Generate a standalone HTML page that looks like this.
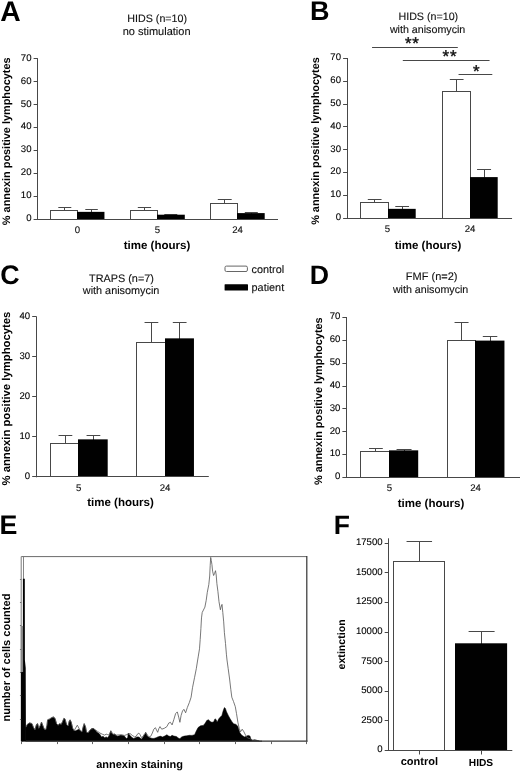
<!DOCTYPE html>
<html><head><meta charset="utf-8"><title>Figure</title>
<style>
html,body{margin:0;padding:0;background:#fff;}
body{width:520px;height:771px;overflow:hidden;font-family:"Liberation Sans",sans-serif;}
svg{display:block;font-family:"Liberation Sans",sans-serif;will-change:transform;opacity:0.999;}
text{text-rendering:geometricPrecision;}
</style></head><body>
<svg width="520" height="771" viewBox="0 0 520 771">
<rect width="520" height="771" fill="#fff"/>
<text x="0.30" y="20.70" font-size="28.3" font-weight="bold" text-anchor="start" fill="#000">A</text>
<text x="310.00" y="20.30" font-size="27.0" font-weight="bold" text-anchor="start" fill="#000">B</text>
<text x="0.20" y="284.10" font-size="26.8" font-weight="bold" text-anchor="start" fill="#000">C</text>
<text x="309.70" y="284.30" font-size="26.7" font-weight="bold" text-anchor="start" fill="#000">D</text>
<text x="-0.60" y="534.20" font-size="26.8" font-weight="bold" text-anchor="start" fill="#000">E</text>
<text x="333.80" y="534.20" font-size="26.5" font-weight="bold" text-anchor="start" fill="#000">F</text>
<text x="157.20" y="21.60" font-size="10.7" font-weight="normal" text-anchor="middle" fill="#111" stroke="#111" stroke-width="0.12">HIDS (n=10)</text>
<text x="156.60" y="34.50" font-size="11.0" font-weight="normal" text-anchor="middle" fill="#111" stroke="#111" stroke-width="0.12">no stimulation</text>
<line x1="64.50" y1="207.55" x2="64.50" y2="211.05" stroke="#484848" stroke-width="1.0"/>
<line x1="58.30" y1="207.50" x2="71.30" y2="207.50" stroke="#484848" stroke-width="1.0"/>
<rect x="50.50" y="210.50" width="27.00" height="9.00" fill="#fff" stroke="#484848" stroke-width="1.0"/>
<line x1="91.50" y1="209.55" x2="91.50" y2="212.55" stroke="#484848" stroke-width="1.0"/>
<line x1="85.30" y1="209.50" x2="97.80" y2="209.50" stroke="#484848" stroke-width="1.0"/>
<rect x="77.00" y="211.85" width="27.45" height="8.15" fill="#000"/>
<line x1="144.50" y1="207.80" x2="144.50" y2="210.80" stroke="#484848" stroke-width="1.0"/>
<line x1="137.80" y1="207.50" x2="151.10" y2="207.50" stroke="#484848" stroke-width="1.0"/>
<rect x="130.50" y="210.50" width="27.00" height="9.00" fill="#fff" stroke="#484848" stroke-width="1.0"/>
<line x1="170.50" y1="214.00" x2="170.50" y2="215.40" stroke="#484848" stroke-width="1.0"/>
<line x1="164.30" y1="214.50" x2="177.30" y2="214.50" stroke="#484848" stroke-width="1.0"/>
<rect x="157.00" y="214.70" width="27.80" height="5.30" fill="#000"/>
<line x1="224.50" y1="199.50" x2="224.50" y2="203.80" stroke="#484848" stroke-width="1.0"/>
<line x1="217.80" y1="199.50" x2="231.70" y2="199.50" stroke="#484848" stroke-width="1.0"/>
<rect x="210.50" y="203.50" width="27.00" height="16.00" fill="#fff" stroke="#484848" stroke-width="1.0"/>
<line x1="251.50" y1="212.30" x2="251.50" y2="213.80" stroke="#484848" stroke-width="1.0"/>
<line x1="244.80" y1="212.50" x2="257.80" y2="212.50" stroke="#484848" stroke-width="1.0"/>
<rect x="237.00" y="213.10" width="27.70" height="6.90" fill="#000"/>
<line x1="37.50" y1="58.40" x2="37.50" y2="219.75" stroke="#484848" stroke-width="1.0"/>
<line x1="33.60" y1="219.50" x2="37.80" y2="219.50" stroke="#484848" stroke-width="1.0"/>
<text x="31.50" y="221.05" font-size="9.6" font-weight="normal" text-anchor="end" fill="#000" stroke="#111" stroke-width="0.12">0</text>
<line x1="33.60" y1="196.50" x2="37.80" y2="196.50" stroke="#484848" stroke-width="1.0"/>
<text x="31.50" y="198.14" font-size="9.6" font-weight="normal" text-anchor="end" fill="#000" stroke="#111" stroke-width="0.12">10</text>
<line x1="33.60" y1="173.50" x2="37.80" y2="173.50" stroke="#484848" stroke-width="1.0"/>
<text x="31.50" y="175.24" font-size="9.6" font-weight="normal" text-anchor="end" fill="#000" stroke="#111" stroke-width="0.12">20</text>
<line x1="33.60" y1="150.50" x2="37.80" y2="150.50" stroke="#484848" stroke-width="1.0"/>
<text x="31.50" y="152.33" font-size="9.6" font-weight="normal" text-anchor="end" fill="#000" stroke="#111" stroke-width="0.12">30</text>
<line x1="33.60" y1="127.50" x2="37.80" y2="127.50" stroke="#484848" stroke-width="1.0"/>
<text x="31.50" y="129.42" font-size="9.6" font-weight="normal" text-anchor="end" fill="#000" stroke="#111" stroke-width="0.12">40</text>
<line x1="33.60" y1="104.50" x2="37.80" y2="104.50" stroke="#484848" stroke-width="1.0"/>
<text x="31.50" y="106.51" font-size="9.6" font-weight="normal" text-anchor="end" fill="#000" stroke="#111" stroke-width="0.12">50</text>
<line x1="33.60" y1="81.50" x2="37.80" y2="81.50" stroke="#484848" stroke-width="1.0"/>
<text x="31.50" y="83.61" font-size="9.6" font-weight="normal" text-anchor="end" fill="#000" stroke="#111" stroke-width="0.12">60</text>
<line x1="33.60" y1="58.50" x2="37.80" y2="58.50" stroke="#484848" stroke-width="1.0"/>
<text x="31.50" y="60.70" font-size="9.6" font-weight="normal" text-anchor="end" fill="#000" stroke="#111" stroke-width="0.12">70</text>
<line x1="37.30" y1="219.50" x2="278.00" y2="219.50" stroke="#484848" stroke-width="1.0"/>
<text x="77.50" y="233.20" font-size="9.6" font-weight="normal" text-anchor="middle" fill="#111" stroke="#111" stroke-width="0.12">0</text>
<text x="157.50" y="233.20" font-size="9.6" font-weight="normal" text-anchor="middle" fill="#111" stroke="#111" stroke-width="0.12">5</text>
<text x="237.50" y="233.20" font-size="9.6" font-weight="normal" text-anchor="middle" fill="#111" stroke="#111" stroke-width="0.12">24</text>
<text x="157.00" y="249.20" font-size="11.55" font-weight="bold" text-anchor="middle" fill="#000">time (hours)</text>
<text x="10.00" y="141.30" font-size="10.9" font-weight="bold" text-anchor="middle" fill="#000" transform="rotate(-90 10.00 141.30)">% annexin positive lymphocytes</text>
<text x="428.30" y="20.30" font-size="10.7" font-weight="normal" text-anchor="middle" fill="#111" stroke="#111" stroke-width="0.12">HIDS (n=10)</text>
<text x="427.60" y="33.30" font-size="10.7" font-weight="normal" text-anchor="middle" fill="#111" stroke="#111" stroke-width="0.12">with anisomycin</text>
<line x1="372.05" y1="47.50" x2="457.80" y2="47.50" stroke="#484848" stroke-width="1.0"/>
<line x1="402.80" y1="60.50" x2="489.55" y2="60.50" stroke="#484848" stroke-width="1.0"/>
<line x1="458.55" y1="74.50" x2="492.30" y2="74.50" stroke="#484848" stroke-width="1.0"/>
<text x="412.30" y="48.80" font-size="17.0" font-weight="normal" text-anchor="middle" fill="#111" letter-spacing="0.8" stroke="#111" stroke-width="0.4">**</text>
<text x="449.90" y="62.30" font-size="17.0" font-weight="normal" text-anchor="middle" fill="#111" letter-spacing="0.8" stroke="#111" stroke-width="0.4">**</text>
<text x="476.30" y="76.80" font-size="17.0" font-weight="normal" text-anchor="middle" fill="#111" stroke="#111" stroke-width="0.4">*</text>
<line x1="374.50" y1="199.80" x2="374.50" y2="203.30" stroke="#484848" stroke-width="1.0"/>
<line x1="367.80" y1="199.50" x2="381.55" y2="199.50" stroke="#484848" stroke-width="1.0"/>
<rect x="360.50" y="202.50" width="28.00" height="16.00" fill="#fff" stroke="#484848" stroke-width="1.0"/>
<line x1="402.50" y1="206.55" x2="402.50" y2="209.55" stroke="#484848" stroke-width="1.0"/>
<line x1="395.30" y1="206.50" x2="409.05" y2="206.50" stroke="#484848" stroke-width="1.0"/>
<rect x="388.00" y="208.85" width="27.70" height="10.15" fill="#000"/>
<line x1="456.50" y1="79.80" x2="456.50" y2="92.05" stroke="#484848" stroke-width="1.0"/>
<line x1="449.80" y1="79.50" x2="463.55" y2="79.50" stroke="#484848" stroke-width="1.0"/>
<rect x="442.50" y="91.50" width="28.00" height="127.00" fill="#fff" stroke="#484848" stroke-width="1.0"/>
<line x1="484.50" y1="169.80" x2="484.50" y2="177.80" stroke="#484848" stroke-width="1.0"/>
<line x1="477.05" y1="169.50" x2="491.05" y2="169.50" stroke="#484848" stroke-width="1.0"/>
<rect x="470.00" y="177.10" width="27.70" height="41.90" fill="#000"/>
<line x1="347.50" y1="58.00" x2="347.50" y2="218.80" stroke="#484848" stroke-width="1.0"/>
<line x1="343.10" y1="218.50" x2="347.30" y2="218.50" stroke="#484848" stroke-width="1.0"/>
<text x="341.00" y="220.10" font-size="9.6" font-weight="normal" text-anchor="end" fill="#000" stroke="#111" stroke-width="0.12">0</text>
<line x1="343.10" y1="195.50" x2="347.30" y2="195.50" stroke="#484848" stroke-width="1.0"/>
<text x="341.00" y="197.27" font-size="9.6" font-weight="normal" text-anchor="end" fill="#000" stroke="#111" stroke-width="0.12">10</text>
<line x1="343.10" y1="172.50" x2="347.30" y2="172.50" stroke="#484848" stroke-width="1.0"/>
<text x="341.00" y="174.44" font-size="9.6" font-weight="normal" text-anchor="end" fill="#000" stroke="#111" stroke-width="0.12">20</text>
<line x1="343.10" y1="149.50" x2="347.30" y2="149.50" stroke="#484848" stroke-width="1.0"/>
<text x="341.00" y="151.61" font-size="9.6" font-weight="normal" text-anchor="end" fill="#000" stroke="#111" stroke-width="0.12">30</text>
<line x1="343.10" y1="126.50" x2="347.30" y2="126.50" stroke="#484848" stroke-width="1.0"/>
<text x="341.00" y="128.79" font-size="9.6" font-weight="normal" text-anchor="end" fill="#000" stroke="#111" stroke-width="0.12">40</text>
<line x1="343.10" y1="104.50" x2="347.30" y2="104.50" stroke="#484848" stroke-width="1.0"/>
<text x="341.00" y="105.96" font-size="9.6" font-weight="normal" text-anchor="end" fill="#000" stroke="#111" stroke-width="0.12">50</text>
<line x1="343.10" y1="81.50" x2="347.30" y2="81.50" stroke="#484848" stroke-width="1.0"/>
<text x="341.00" y="83.13" font-size="9.6" font-weight="normal" text-anchor="end" fill="#000" stroke="#111" stroke-width="0.12">60</text>
<line x1="343.10" y1="58.50" x2="347.30" y2="58.50" stroke="#484848" stroke-width="1.0"/>
<text x="341.00" y="60.30" font-size="9.6" font-weight="normal" text-anchor="end" fill="#000" stroke="#111" stroke-width="0.12">70</text>
<line x1="346.80" y1="218.50" x2="512.05" y2="218.50" stroke="#484848" stroke-width="1.0"/>
<text x="387.50" y="232.40" font-size="9.6" font-weight="normal" text-anchor="middle" fill="#111" stroke="#111" stroke-width="0.12">5</text>
<text x="470.00" y="232.40" font-size="9.6" font-weight="normal" text-anchor="middle" fill="#111" stroke="#111" stroke-width="0.12">24</text>
<text x="428.00" y="248.70" font-size="11.55" font-weight="bold" text-anchor="middle" fill="#000">time (hours)</text>
<text x="319.40" y="141.00" font-size="10.9" font-weight="bold" text-anchor="middle" fill="#000" transform="rotate(-90 319.40 141.00)">% annexin positive lymphocytes</text>
<rect x="225.0" y="266.1" width="22.4" height="5.4" rx="1.4" fill="#fff" stroke="#666" stroke-width="1"/>
<rect x="224.6" y="284.2" width="23.4" height="6.3" rx="0.6" fill="#000"/>
<text x="251.60" y="273.30" font-size="10.85" font-weight="normal" text-anchor="start" fill="#111" stroke="#111" stroke-width="0.12">control</text>
<text x="251.60" y="291.20" font-size="10.85" font-weight="normal" text-anchor="start" fill="#111" stroke="#111" stroke-width="0.12">patient</text>
<text x="121.50" y="281.70" font-size="10.85" font-weight="normal" text-anchor="middle" fill="#111" stroke="#111" stroke-width="0.12">TRAPS (n=7)</text>
<text x="121.10" y="294.20" font-size="10.85" font-weight="normal" text-anchor="middle" fill="#111" stroke="#111" stroke-width="0.12">with anisomycin</text>
<line x1="65.50" y1="435.80" x2="65.50" y2="444.55" stroke="#484848" stroke-width="1.0"/>
<line x1="58.55" y1="435.50" x2="72.30" y2="435.50" stroke="#484848" stroke-width="1.0"/>
<rect x="50.50" y="443.50" width="28.00" height="33.00" fill="#fff" stroke="#484848" stroke-width="1.0"/>
<line x1="93.50" y1="435.80" x2="93.50" y2="440.05" stroke="#484848" stroke-width="1.0"/>
<line x1="86.55" y1="435.50" x2="100.30" y2="435.50" stroke="#484848" stroke-width="1.0"/>
<rect x="78.00" y="439.35" width="29.70" height="37.65" fill="#000"/>
<line x1="151.50" y1="322.30" x2="151.50" y2="342.80" stroke="#484848" stroke-width="1.0"/>
<line x1="144.55" y1="322.50" x2="158.30" y2="322.50" stroke="#484848" stroke-width="1.0"/>
<rect x="136.50" y="342.50" width="29.00" height="134.00" fill="#fff" stroke="#484848" stroke-width="1.0"/>
<line x1="179.50" y1="322.30" x2="179.50" y2="339.05" stroke="#484848" stroke-width="1.0"/>
<line x1="172.80" y1="322.50" x2="186.55" y2="322.50" stroke="#484848" stroke-width="1.0"/>
<rect x="165.00" y="338.35" width="28.95" height="138.65" fill="#000"/>
<line x1="36.50" y1="316.40" x2="36.50" y2="477.30" stroke="#484848" stroke-width="1.0"/>
<line x1="32.20" y1="476.50" x2="36.40" y2="476.50" stroke="#484848" stroke-width="1.0"/>
<text x="30.10" y="478.60" font-size="9.6" font-weight="normal" text-anchor="end" fill="#000" stroke="#111" stroke-width="0.12">0</text>
<line x1="32.20" y1="436.50" x2="36.40" y2="436.50" stroke="#484848" stroke-width="1.0"/>
<text x="30.10" y="438.62" font-size="9.6" font-weight="normal" text-anchor="end" fill="#000" stroke="#111" stroke-width="0.12">10</text>
<line x1="32.20" y1="396.50" x2="36.40" y2="396.50" stroke="#484848" stroke-width="1.0"/>
<text x="30.10" y="398.65" font-size="9.6" font-weight="normal" text-anchor="end" fill="#000" stroke="#111" stroke-width="0.12">20</text>
<line x1="32.20" y1="356.50" x2="36.40" y2="356.50" stroke="#484848" stroke-width="1.0"/>
<text x="30.10" y="358.68" font-size="9.6" font-weight="normal" text-anchor="end" fill="#000" stroke="#111" stroke-width="0.12">30</text>
<line x1="32.20" y1="316.50" x2="36.40" y2="316.50" stroke="#484848" stroke-width="1.0"/>
<text x="30.10" y="318.70" font-size="9.6" font-weight="normal" text-anchor="end" fill="#000" stroke="#111" stroke-width="0.12">40</text>
<line x1="35.90" y1="476.50" x2="208.80" y2="476.50" stroke="#484848" stroke-width="1.0"/>
<text x="78.75" y="491.20" font-size="9.6" font-weight="normal" text-anchor="middle" fill="#111" stroke="#111" stroke-width="0.12">5</text>
<text x="165.00" y="491.20" font-size="9.6" font-weight="normal" text-anchor="middle" fill="#111" stroke="#111" stroke-width="0.12">24</text>
<text x="120.50" y="506.00" font-size="11.55" font-weight="bold" text-anchor="middle" fill="#000">time (hours)</text>
<text x="10.20" y="398.60" font-size="11.3" font-weight="bold" text-anchor="middle" fill="#000" transform="rotate(-90 10.20 398.60)">% annexin positive lymphocytes</text>
<text x="431.70" y="280.20" font-size="11.0" font-weight="normal" text-anchor="middle" fill="#111" stroke="#111" stroke-width="0.12">FMF (n=2)</text>
<text x="430.60" y="292.80" font-size="10.7" font-weight="normal" text-anchor="middle" fill="#111" stroke="#111" stroke-width="0.12">with anisomycin</text>
<line x1="375.50" y1="448.55" x2="375.50" y2="452.05" stroke="#484848" stroke-width="1.0"/>
<line x1="369.05" y1="448.50" x2="382.80" y2="448.50" stroke="#484848" stroke-width="1.0"/>
<rect x="360.50" y="451.50" width="29.00" height="26.00" fill="#fff" stroke="#484848" stroke-width="1.0"/>
<line x1="404.50" y1="449.05" x2="404.50" y2="451.05" stroke="#484848" stroke-width="1.0"/>
<line x1="396.55" y1="449.50" x2="411.55" y2="449.50" stroke="#484848" stroke-width="1.0"/>
<rect x="389.00" y="450.35" width="29.20" height="27.65" fill="#000"/>
<line x1="461.50" y1="322.80" x2="461.50" y2="341.30" stroke="#484848" stroke-width="1.0"/>
<line x1="454.55" y1="322.50" x2="468.55" y2="322.50" stroke="#484848" stroke-width="1.0"/>
<rect x="447.50" y="340.50" width="28.00" height="137.00" fill="#fff" stroke="#484848" stroke-width="1.0"/>
<line x1="490.50" y1="336.80" x2="490.50" y2="341.30" stroke="#484848" stroke-width="1.0"/>
<line x1="482.80" y1="336.50" x2="497.30" y2="336.50" stroke="#484848" stroke-width="1.0"/>
<rect x="475.00" y="340.60" width="29.45" height="137.40" fill="#000"/>
<line x1="346.50" y1="317.00" x2="346.50" y2="478.00" stroke="#484848" stroke-width="1.0"/>
<line x1="342.40" y1="477.50" x2="346.60" y2="477.50" stroke="#484848" stroke-width="1.0"/>
<text x="340.30" y="479.30" font-size="9.6" font-weight="normal" text-anchor="end" fill="#000" stroke="#111" stroke-width="0.12">0</text>
<line x1="342.40" y1="454.50" x2="346.60" y2="454.50" stroke="#484848" stroke-width="1.0"/>
<text x="340.30" y="456.44" font-size="9.6" font-weight="normal" text-anchor="end" fill="#000" stroke="#111" stroke-width="0.12">10</text>
<line x1="342.40" y1="431.50" x2="346.60" y2="431.50" stroke="#484848" stroke-width="1.0"/>
<text x="340.30" y="433.59" font-size="9.6" font-weight="normal" text-anchor="end" fill="#000" stroke="#111" stroke-width="0.12">20</text>
<line x1="342.40" y1="408.50" x2="346.60" y2="408.50" stroke="#484848" stroke-width="1.0"/>
<text x="340.30" y="410.73" font-size="9.6" font-weight="normal" text-anchor="end" fill="#000" stroke="#111" stroke-width="0.12">30</text>
<line x1="342.40" y1="386.50" x2="346.60" y2="386.50" stroke="#484848" stroke-width="1.0"/>
<text x="340.30" y="387.87" font-size="9.6" font-weight="normal" text-anchor="end" fill="#000" stroke="#111" stroke-width="0.12">40</text>
<line x1="342.40" y1="363.50" x2="346.60" y2="363.50" stroke="#484848" stroke-width="1.0"/>
<text x="340.30" y="365.01" font-size="9.6" font-weight="normal" text-anchor="end" fill="#000" stroke="#111" stroke-width="0.12">50</text>
<line x1="342.40" y1="340.50" x2="346.60" y2="340.50" stroke="#484848" stroke-width="1.0"/>
<text x="340.30" y="342.16" font-size="9.6" font-weight="normal" text-anchor="end" fill="#000" stroke="#111" stroke-width="0.12">60</text>
<line x1="342.40" y1="317.50" x2="346.60" y2="317.50" stroke="#484848" stroke-width="1.0"/>
<text x="340.30" y="319.30" font-size="9.6" font-weight="normal" text-anchor="end" fill="#000" stroke="#111" stroke-width="0.12">70</text>
<line x1="346.10" y1="477.50" x2="520.30" y2="477.50" stroke="#484848" stroke-width="1.0"/>
<text x="389.50" y="491.00" font-size="9.6" font-weight="normal" text-anchor="middle" fill="#111" stroke="#111" stroke-width="0.12">5</text>
<text x="475.50" y="491.00" font-size="9.6" font-weight="normal" text-anchor="middle" fill="#111" stroke="#111" stroke-width="0.12">24</text>
<text x="431.00" y="507.30" font-size="11.55" font-weight="bold" text-anchor="middle" fill="#000">time (hours)</text>
<text x="322.50" y="401.20" font-size="10.9" font-weight="bold" text-anchor="middle" fill="#000" transform="rotate(-90 322.50 401.20)">% annexin positive lymphocytes</text>
<line x1="419.50" y1="541.55" x2="419.50" y2="562.55" stroke="#484848" stroke-width="1.0"/>
<line x1="406.55" y1="541.50" x2="432.05" y2="541.50" stroke="#484848" stroke-width="1.0"/>
<rect x="393.50" y="561.50" width="51.00" height="189.00" fill="#fff" stroke="#484848" stroke-width="1.0"/>
<line x1="481.50" y1="631.80" x2="481.50" y2="644.00" stroke="#484848" stroke-width="1.0"/>
<line x1="468.60" y1="631.50" x2="494.60" y2="631.50" stroke="#484848" stroke-width="1.0"/>
<rect x="455.00" y="643.30" width="52.10" height="107.70" fill="#000"/>
<line x1="388.50" y1="538.30" x2="388.50" y2="751.00" stroke="#484848" stroke-width="1.0"/>
<line x1="384.70" y1="750.50" x2="388.90" y2="750.50" stroke="#484848" stroke-width="1.0"/>
<text x="382.60" y="752.30" font-size="9.6" font-weight="normal" text-anchor="end" fill="#000" stroke="#111" stroke-width="0.12">0</text>
<line x1="384.70" y1="720.50" x2="388.90" y2="720.50" stroke="#484848" stroke-width="1.0"/>
<text x="382.60" y="722.70" font-size="9.6" font-weight="normal" text-anchor="end" fill="#000" stroke="#111" stroke-width="0.12">2500</text>
<line x1="384.70" y1="691.50" x2="388.90" y2="691.50" stroke="#484848" stroke-width="1.0"/>
<text x="382.60" y="693.10" font-size="9.6" font-weight="normal" text-anchor="end" fill="#000" stroke="#111" stroke-width="0.12">5000</text>
<line x1="384.70" y1="661.50" x2="388.90" y2="661.50" stroke="#484848" stroke-width="1.0"/>
<text x="382.60" y="663.50" font-size="9.6" font-weight="normal" text-anchor="end" fill="#000" stroke="#111" stroke-width="0.12">7500</text>
<line x1="384.70" y1="632.50" x2="388.90" y2="632.50" stroke="#484848" stroke-width="1.0"/>
<text x="382.60" y="633.90" font-size="9.6" font-weight="normal" text-anchor="end" fill="#000" stroke="#111" stroke-width="0.12">10000</text>
<line x1="384.70" y1="602.50" x2="388.90" y2="602.50" stroke="#484848" stroke-width="1.0"/>
<text x="382.60" y="604.30" font-size="9.6" font-weight="normal" text-anchor="end" fill="#000" stroke="#111" stroke-width="0.12">12500</text>
<line x1="384.70" y1="572.50" x2="388.90" y2="572.50" stroke="#484848" stroke-width="1.0"/>
<text x="382.60" y="574.70" font-size="9.6" font-weight="normal" text-anchor="end" fill="#000" stroke="#111" stroke-width="0.12">15000</text>
<line x1="384.70" y1="543.50" x2="388.90" y2="543.50" stroke="#484848" stroke-width="1.0"/>
<text x="382.60" y="545.10" font-size="9.6" font-weight="normal" text-anchor="end" fill="#000" stroke="#111" stroke-width="0.12">17500</text>
<line x1="388.40" y1="750.50" x2="512.30" y2="750.50" stroke="#484848" stroke-width="1.0"/>
<line x1="419.50" y1="750.50" x2="419.50" y2="754.50" stroke="#484848" stroke-width="1.0"/>
<line x1="481.50" y1="750.50" x2="481.50" y2="754.50" stroke="#484848" stroke-width="1.0"/>
<text x="419.40" y="765.20" font-size="11.0" font-weight="bold" text-anchor="middle" fill="#000">control</text>
<text x="481.00" y="765.80" font-size="10.2" font-weight="bold" text-anchor="middle" fill="#000">HIDS</text>
<text x="345.50" y="644.40" font-size="10.6" font-weight="bold" text-anchor="middle" fill="#000" transform="rotate(-90 345.50 644.40)">extinction</text>
<path d="M25.6 741.2 L25.6 727.7 L25.8 727.7 L27.3 724.6 L29.6 723.1 L31.9 723.8 L33.5 727.7 L35.0 730.0 L36.5 724.6 L37.6 723.8 L38.8 728.5 L40.4 725.4 L41.5 722.3 L42.7 725.4 L44.2 729.2 L45.8 730.0 L47.0 725.4 L47.6 720.0 L49.6 719.2 L51.9 717.7 L53.5 717.2 L55.0 718.5 L56.5 723.8 L58.1 725.4 L59.6 723.8 L61.2 724.6 L62.7 721.5 L63.9 718.5 L65.0 719.2 L66.5 724.6 L68.1 726.2 L69.2 721.5 L70.1 720.0 L71.2 722.3 L72.7 728.5 L74.2 730.8 L75.8 730.8 L77.3 730.0 L78.8 729.2 L80.4 730.8 L81.9 732.3 L83.0 727.7 L84.2 723.8 L85.5 726.9 L86.5 732.3 L88.1 733.1 L89.6 730.8 L91.2 729.2 L93.5 728.9 L91.5 728.9 L93.1 728.5 L95.4 730.0 L96.9 732.3 L98.5 733.1 L100.0 734.6 L101.5 736.9 L103.1 736.2 L104.6 737.7 L106.2 736.9 L107.7 737.7 L109.2 735.4 L110.0 733.1 L110.8 730.8 L111.5 733.1 L113.1 734.6 L114.6 733.8 L116.2 735.4 L117.7 736.2 L119.2 735.7 L120.8 735.1 L123.1 735.4 L124.6 736.2 L126.2 738.5 L127.7 737.7 L128.2 733.1 L129.2 734.6 L130.8 736.2 L132.3 737.7 L133.8 738.5 L135.4 737.7 L136.9 736.9 L138.5 736.9 L140.0 737.7 L141.5 739.2 L143.1 736.9 L144.6 734.6 L145.7 732.3 L146.9 735.4 L148.5 736.9 L150.0 737.7 L151.5 738.2 L153.1 738.5 L154.6 738.2 L156.2 737.7 L157.7 736.9 L159.2 736.6 L160.0 736.1 L162.6 737.0 L165.2 735.8 L166.9 734.7 L168.7 736.1 L170.4 736.5 L172.1 735.3 L173.8 736.1 L176.4 736.5 L178.2 737.9 L179.9 738.7 L181.6 737.0 L184.2 736.1 L186.8 735.8 L189.4 735.3 L192.0 735.4 L194.6 734.7 L196.3 730.9 L198.1 727.5 L200.7 725.7 L203.3 725.4 L205.3 723.1 L206.7 720.6 L208.4 719.7 L210.2 721.4 L211.9 722.3 L213.6 721.9 L215.0 718.8 L216.2 719.7 L217.1 722.3 L218.8 718.8 L220.6 716.7 L221.9 715.4 L223.1 711.0 L224.4 707.6 L225.4 708.4 L226.6 711.9 L228.3 715.4 L230.1 718.8 L231.8 721.4 L233.5 723.7 L236.1 724.4 L237.9 726.6 L238.7 729.2 L239.9 732.7 L241.3 734.7 L243.0 736.1 L244.8 737.0 L246.5 736.1 L248.2 735.4 L250.0 736.1 L250.6 738.3 L252.2 740.2 L254.9 739.7 L257.6 740.5 L260.3 741.2 L262 741.2 Z" fill="#000" stroke="#000" stroke-width="0.5" stroke-linejoin="round"/>
<path d="M25.8 727.4 L27.3 724.3 L29.6 722.8 L31.9 723.5 L33.5 727.4 L35.0 729.7 L36.5 724.3 L37.6 723.5 L38.8 728.2 L40.4 725.1 L41.5 722.0 L42.7 725.1 L44.2 728.9 L45.8 729.7 L47.0 725.1 L47.6 719.7 L49.6 718.9 L51.9 717.4 L53.5 716.9 L55.0 718.2 L56.5 723.5 L58.1 725.1 L59.6 723.5 L61.2 724.3 L62.7 721.2 L63.9 718.2 L65.0 718.9 L66.5 724.3 L68.1 725.9 L69.2 721.2 L70.1 719.7 L71.2 722.0 L72.7 728.2 L74.2 730.6 L74.2 730.5 L77.3 725.2 L80.3 730.6 L80.4 730.5 L81.9 732.0 L83.0 727.4 L84.2 723.5 L85.5 726.6 L86.5 732.0 L88.1 732.8 L89.6 730.5 L91.2 728.9 L93.5 728.6 L95.4 730.0 L97.7 731.5 L100.0 733.1 L102.3 734.2 L104.6 735.1 L106.2 734.2 L107.7 734.6 L109.2 735.1 L110.8 730.8 L113.1 734.2 L116.2 735.1 L120.8 734.8 L124.6 735.4 L126.9 734.6 L130.0 733.5 L132.3 735.4 L134.6 736.9 L136.2 736.2 L137.7 733.8 L138.9 733.1 L140.0 734.6 L141.5 737.7 L143.1 736.2 L144.6 733.8 L146.2 733.1 L147.7 735.4 L149.2 736.9 L150.8 736.2 L152.3 733.1 L153.8 729.2 L155.4 727.7 L156.5 730.0 L157.7 732.3 L158.9 728.5 L160.0 726.6 L161.7 729.2 L164.3 728.3 L166.9 726.6 L168.7 723.1 L170.4 722.3 L172.1 724.9 L173.8 719.7 L175.6 713.6 L177.3 711.9 L178.7 717.1 L179.9 722.3 L181.1 715.4 L182.5 711.0 L183.9 709.3 L185.6 712.8 L187.3 707.6 L189.4 702.4 L191.1 697.2 L192.5 687.7 L194.6 677.3 L196.3 668.7 L197.5 661.0 L198.2 656.9 L199.5 648.8 L200.2 639.4 L200.9 628.6 L201.5 617.9 L202.2 612.5 L204.9 607.1 L206.2 600.4 L207.3 592.3 L208.8 584.6 L209.7 576.0 L210.2 565.4 L210.7 557.4 L211.3 560.6 L211.9 564.4 L212.6 571.2 L213.6 575.5 L214.5 573.6 L215.5 570.7 L216.2 575.0 L216.9 583.7 L217.9 591.3 L219.0 601.7 L220.4 609.8 L221.0 607.1 L222.0 604.4 L222.8 612.5 L223.7 621.9 L224.4 632.7 L225.5 643.5 L226.4 654.2 L227.0 660.0 L228.2 668.7 L229.6 679.0 L230.8 689.4 L231.8 697.2 L233.5 701.5 L235.3 706.7 L236.5 713.6 L237.9 722.3 L239.2 728.3 L240.5 731.8 L242.2 729.2 L243.9 731.8 L245.6 735.3 L247.4 737.9 L250.0 738.7 L252.2 740.2 L259.0 741.0" fill="none" stroke="#555" stroke-width="0.8" stroke-linejoin="round"/>
<line x1="21.25" y1="556.60" x2="306.80" y2="556.60" stroke="#6a6a6a" stroke-width="1.0"/>
<line x1="21.20" y1="556.60" x2="21.20" y2="741.20" stroke="#7a7a7a" stroke-width="1.0"/>
<line x1="306.80" y1="556.10" x2="306.80" y2="741.70" stroke="#333" stroke-width="1.2"/>
<line x1="21.25" y1="741.15" x2="307.40" y2="741.15" stroke="#333" stroke-width="1.2"/>
<line x1="23.50" y1="557.00" x2="23.50" y2="579.30" stroke="#777" stroke-width="0.9"/>
<path d="M22.9 578.8 L24.8 578.8 L24.9 660 L25.7 668 L25.9 727 L25.9 741 L22.9 741 Z" fill="#000"/>
<rect x="20.8" y="626" width="2.3" height="46" fill="#8a8a8a"/>
<rect x="21.0" y="672" width="2.2" height="69.3" fill="#000"/>
<line x1="21.50" y1="741.30" x2="21.50" y2="744.10" stroke="#555" stroke-width="0.9"/>
<line x1="57.50" y1="741.30" x2="57.50" y2="744.10" stroke="#555" stroke-width="0.9"/>
<line x1="92.50" y1="741.30" x2="92.50" y2="744.10" stroke="#555" stroke-width="0.9"/>
<line x1="128.50" y1="741.30" x2="128.50" y2="744.10" stroke="#555" stroke-width="0.9"/>
<line x1="164.50" y1="741.30" x2="164.50" y2="744.10" stroke="#555" stroke-width="0.9"/>
<line x1="199.50" y1="741.30" x2="199.50" y2="744.10" stroke="#555" stroke-width="0.9"/>
<line x1="235.50" y1="741.30" x2="235.50" y2="744.10" stroke="#555" stroke-width="0.9"/>
<line x1="271.50" y1="741.30" x2="271.50" y2="744.10" stroke="#555" stroke-width="0.9"/>
<line x1="306.50" y1="741.30" x2="306.50" y2="744.10" stroke="#555" stroke-width="0.9"/>
<line x1="19.95" y1="579.50" x2="21.25" y2="579.50" stroke="#666" stroke-width="0.9"/>
<line x1="19.95" y1="602.50" x2="21.25" y2="602.50" stroke="#666" stroke-width="0.9"/>
<line x1="19.95" y1="625.50" x2="21.25" y2="625.50" stroke="#666" stroke-width="0.9"/>
<line x1="19.95" y1="649.50" x2="21.25" y2="649.50" stroke="#666" stroke-width="0.9"/>
<line x1="19.95" y1="672.50" x2="21.25" y2="672.50" stroke="#666" stroke-width="0.9"/>
<line x1="19.95" y1="695.50" x2="21.25" y2="695.50" stroke="#666" stroke-width="0.9"/>
<line x1="19.95" y1="719.50" x2="21.25" y2="719.50" stroke="#666" stroke-width="0.9"/>
<text x="139.60" y="767.50" font-size="11.0" font-weight="bold" text-anchor="middle" fill="#000">annexin staining</text>
<text x="10.30" y="657.60" font-size="11.08" font-weight="bold" text-anchor="middle" fill="#000" transform="rotate(-90 10.30 657.60)">number of cells counted</text>
</svg>
</body></html>
